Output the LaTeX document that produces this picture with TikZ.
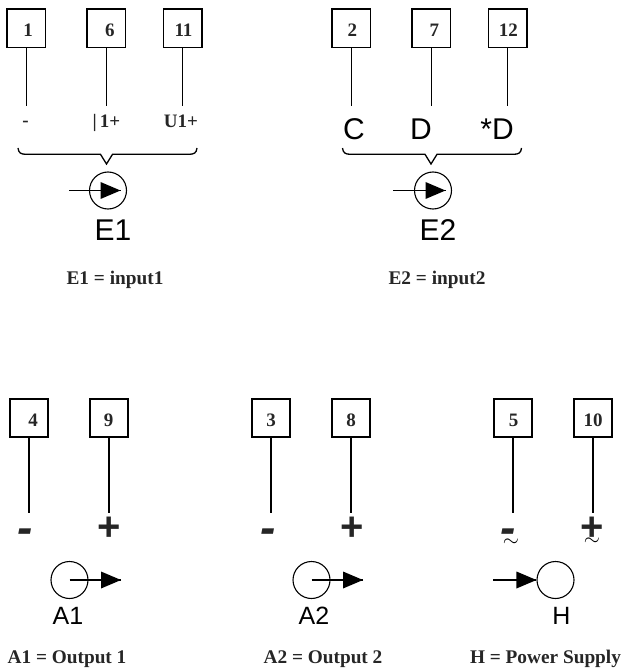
\documentclass[tikz,border=0pt]{standalone}
\usepackage{fontspec}
\setmainfont{Liberation Serif}
\newfontfamily\arialf{Liberation Sans}
\usetikzlibrary{calc}
\definecolor{ink}{gray}{0.15}
\tikzset{
  x=1pt,y=-1pt,
  term/.style={draw=black,line width=1.7pt,minimum width=38.5pt,minimum height=38.5pt,inner sep=0pt,
    font=\bfseries\fontsize{19}{19}\selectfont,text=ink,text height=16pt,text depth=0pt},
  wire/.style={line width=1.1pt,black},
  brc/.style={line width=1.3pt,black,line join=miter},
  circ/.style={circle,draw=black,line width=1.1pt,minimum size=37pt,inner sep=0pt},
  smalltxt/.style={inner sep=0pt,font=\bfseries\fontsize{19}{19}\selectfont,text=ink},
  captxt/.style={inner sep=0pt,font=\bfseries\fontsize{19.3}{19.3}\selectfont,text=ink},
  bigtxt/.style={inner sep=0pt,font=\arialf\fontsize{30}{30}\selectfont},
  midtxt/.style={inner sep=0pt,font=\arialf\fontsize{25}{25}\selectfont},
  sgn/.style={inner sep=0pt,font=\arialf\bfseries\fontsize{40}{40}\selectfont,text=ink},
  dsh/.style={inner sep=0pt,font=\arialf\bfseries\itshape\fontsize{46}{46}\selectfont,text=ink},
  tld/.style={inner sep=0pt,font=\fontsize{22}{22}\selectfont},
}
\newcommand{\myarrow}[1]{%
  \fill[black] ($(#1)+(-20,-8.5)$) -- (#1) -- ($(#1)+(-20,8.5)$) -- cycle;}
\begin{document}
\begin{tikzpicture}
\useasboundingbox (0,0) rectangle (623,668);
% terminals
\node[term] (t1)  at (26.3,28.2) {\hspace*{3.5pt}1};
\node[term] (t6)  at (106.3,28.2) {\hspace*{7pt}6};
\node[term] (t11) at (182.8,28.2) {\hspace*{1.4pt}11};
\node[term] (t2)  at (351.3,28.2) {\hspace*{2pt}2};
\node[term] (t7)  at (431.3,28.2) {\hspace*{6pt}7};
\node[term] (t12) at (507.8,28.2) {\hspace*{1pt}12};
\node[term] (t4)  at (29,418) {\hspace*{8pt}4};
\node[term] (t9)  at (109,418) {9\hspace*{1pt}};
\node[term] (t3)  at (271,418) {3};
\node[term] (t8)  at (351,418) {8};
\node[term] (t5)  at (513,418) {\hspace*{1.4pt}5};
\node[term] (t10) at (593,418) {10};
% wire ends
\foreach \n/\x/\y in {1/26.3/106.5,6/106.3/106.5,11/182.8/106.5,2/351.3/106.5,7/431.3/106.5,12/507.8/106.5,
                      4/29/512.5,9/109/512.5,3/271/512.5,8/351/512.5,5/513/512.5,10/593/512.5}{
  \coordinate (e\n) at (\x,\y);
  \draw[wire] (t\n.south) -- (e\n);
}
% terminal labels, top left
\node[smalltxt] (m1) at (25.5,124) {-};
\node[smalltxt] (i1) at (106.5,123) {|\,1+};
\node[smalltxt] (u1) at (181,121.5) {U1+};
% top right
\node[bigtxt] (lc) at (354,129) {C};
\node[bigtxt] (ld) at (421,129) {D};
\node[bigtxt] (lsd) at (497,129) {*D};
% braces
\coordinate (b1) at (106.5,164);
\draw[brc] (18,148) .. controls (18.5,153) and (21,154.3) .. (26,154.3) -- (100.5,154.3) -- (b1) -- (112.5,154.3) -- (189,154.3) .. controls (194,154.3) and (196.5,153) .. (197,148);
\coordinate (b2) at (431,164);
\draw[brc] (342.5,148) .. controls (343,153) and (345.5,154.3) .. (350.5,154.3) -- (425,154.3) -- (b2) -- (437,154.3) -- (513.5,154.3) .. controls (518.5,154.3) and (521,153) .. (521.5,148);
% E1
\node[circ] (c1) at (108,190.5) {};
\coordinate (a1s) at (69,190.5);
\coordinate (a1e) at (120.5,190.5);
\draw[wire] (a1s) -- (a1e);
\myarrow{a1e}
\node[bigtxt] (n1) at (113,230.5) {E1};
\node[captxt] (k1) at (115,280) {E1 = input1};
% E2
\node[circ] (c2) at (433,190.5) {};
\coordinate (a2s) at (393,190.5);
\coordinate (a2e) at (445.5,190.5);
\draw[wire] (a2s) -- (a2e);
\myarrow{a2e}
\node[bigtxt] (n2) at (438,230.5) {E2};
\node[captxt] (k2) at (437,280) {E2 = input2};
% signs
\node[dsh] (s4) at (25,536) {-};
\node[sgn] (s9) at (109,528.5) {+};
\node[dsh] (s3) at (268,536) {-};
\node[sgn] (s8) at (352,528.5) {+};
\node[dsh] (s5) at (508.5,536) {-};
\node[sgn] (s10) at (592.5,528.5) {+};
\node[tld] (w5) at (511,542.5) {$\sim$};
\node[tld] (w10) at (592,542) {$\sim$};
% A1
\node[circ] (c3) at (69.5,580) {};
\coordinate (a3e) at (121,580);
\draw[wire] (c3.center) -- (a3e);
\myarrow{a3e}
\node[midtxt] (n3) at (68,616) {A1};
\node[captxt] (k3) at (67,659) {A1 = Output 1};
% A2
\node[circ] (c4) at (311.5,580) {};
\coordinate (a4e) at (363,580);
\draw[wire] (c4.center) -- (a4e);
\myarrow{a4e}
\node[midtxt] (n4) at (314,616) {A2};
\node[captxt] (k4) at (323,659) {A2 = Output 2};
% H
\node[circ] (c5) at (555.5,580) {};
\coordinate (a5s) at (493,580);
\draw[wire] (a5s) -- (c5.west);
\myarrow{c5.west}
\node[midtxt] (n5) at (561.5,616) {H};
\node[captxt] (k5) at (545.5,659) {H = Power Supply};
\end{tikzpicture}
\end{document}
